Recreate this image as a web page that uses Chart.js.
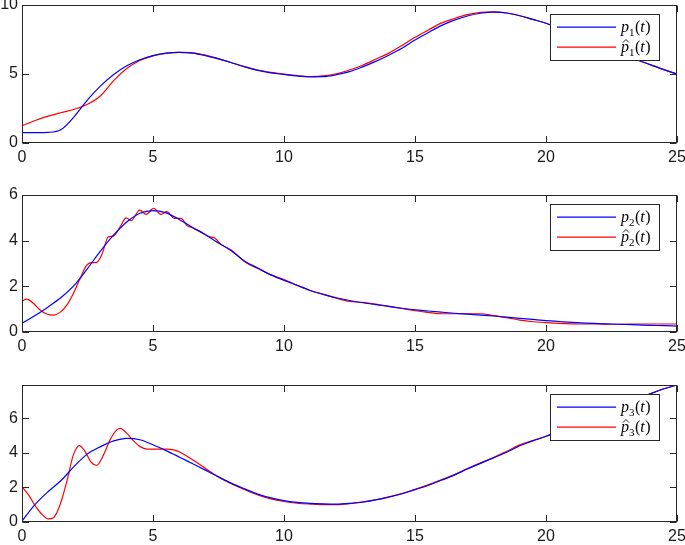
<!DOCTYPE html>
<html>
<head>
<meta charset="utf-8">
<script src="https://cdn.jsdelivr.net/npm/chart.js@4.4.0/dist/chart.umd.min.js"></script>
<style>
  body { margin: 0; background: #fff; }
  #wrap { position: relative; width: 685px; height: 545px; }
  canvas { position: absolute; left: 0; }
</style>
</head>
<body>
<div id="wrap">
  <canvas id="c1" width="685" height="170" style="top:0px"></canvas>
  <canvas id="c2" width="685" height="175" style="top:180px"></canvas>
  <canvas id="c3" width="685" height="175" style="top:370px"></canvas>
</div>
<script>
// time grid shared by the smooth curves
const tStep = [0, 0.5, 1, 1.5, 2, 2.5, 3, 3.5, 4, 4.5, 5, 5.5, 6, 6.5, 7, 7.5, 8, 8.5, 9, 9.5,
  10, 10.5, 11, 11.5, 12, 12.5, 13, 13.5, 14, 14.5, 15, 15.5, 16, 16.5, 17, 17.5, 18, 18.5, 19, 19.5,
  20, 20.5, 21, 21.5, 22, 22.5, 23, 23.5, 24, 24.5, 25];

// panel 1
const p1 = [0.72, 0.72, 0.74, 0.95, 1.9, 3.1, 4.12, 4.95, 5.58, 6.02, 6.32, 6.5, 6.56, 6.5, 6.32, 6.08, 5.8, 5.5, 5.25, 5.07,
  4.95, 4.84, 4.78, 4.79, 4.93, 5.15, 5.5, 5.9, 6.35, 6.85, 7.45, 7.98, 8.5, 8.9, 9.2, 9.4, 9.48, 9.42, 9.22, 8.95,
  8.67, 8.3, 7.95, 7.58, 7.2, 6.8, 6.4, 6.0, 5.65, 5.3, 4.98];
const p1Hat = [1.22, 1.6, 1.92, 2.18, 2.42, 2.78, 3.4, 4.5, 5.38, 5.96, 6.3, 6.48, 6.55, 6.52, 6.35, 6.1, 5.8, 5.52, 5.27, 5.1,
  4.97, 4.86, 4.8, 4.84, 5.0, 5.27, 5.62, 6.05, 6.5, 7.05, 7.65, 8.17, 8.68, 9.02, 9.3, 9.46, 9.5, 9.42, 9.22, 8.95,
  8.67, 8.3, 7.95, 7.58, 7.2, 6.8, 6.4, 6.0, 5.65, 5.3, 4.98];

// panel 2
const p2 = [0.38, 0.72, 1.1, 1.52, 2.05, 2.78, 3.55, 4.25, 4.82, 5.2, 5.32, 5.22, 4.93, 4.58, 4.26, 3.9, 3.55, 3.1, 2.8, 2.5,
  2.26, 2.05, 1.82, 1.65, 1.5, 1.38, 1.28, 1.2, 1.12, 1.04, 0.97, 0.92, 0.87, 0.82, 0.78, 0.74, 0.7, 0.65, 0.6, 0.55,
  0.5, 0.46, 0.42, 0.39, 0.37, 0.35, 0.33, 0.31, 0.29, 0.28, 0.26];
const tP2Hat = [0, 0.18, 0.43, 0.69, 0.94, 1.2, 1.45, 1.71, 1.96, 2.22, 2.47, 2.66, 2.85, 3.05, 3.3, 3.49, 3.75, 3.98,
  4.17, 4.49, 4.74, 5.02, 5.3, 5.53, 5.81, 6.07, 6.3, 6.53, 6.81, 7.13, 7.38, 7.57,
  8, 8.5, 9, 9.5, 10, 10.5, 11, 11.5, 12, 12.5, 13, 13.5, 14, 14.5, 15, 15.5, 16, 16.5, 17, 17.5,
  18, 18.5, 19, 19.5, 20, 20.5, 21, 21.5, 22, 22.5, 23, 23.5, 24, 24.5, 25];
const p2Hat = [1.36, 1.44, 1.26, 0.96, 0.79, 0.74, 0.86, 1.18, 1.69, 2.35, 2.93, 3.04, 3.05, 3.4, 4.17, 4.2, 4.62, 5.0,
  4.88, 5.34, 5.15, 5.42, 5.15, 5.27, 4.98, 4.98, 4.66, 4.56, 4.4, 4.18, 4.1, 3.86,
  3.58, 3.08, 2.78, 2.5, 2.3, 2.04, 1.82, 1.65, 1.48, 1.34, 1.3, 1.22, 1.12, 1.03, 0.93, 0.86, 0.8, 0.8, 0.8, 0.8,
  0.72, 0.63, 0.52, 0.45, 0.41, 0.38, 0.36, 0.35, 0.35, 0.34, 0.34, 0.35, 0.35, 0.35, 0.35];

// panel 3
const p3 = [0.04, 1.0, 1.75, 2.4, 3.22, 3.93, 4.35, 4.68, 4.83, 4.75, 4.46, 4.12, 3.75, 3.37, 2.99, 2.6, 2.22, 1.9, 1.6, 1.38,
  1.22, 1.12, 1.06, 1.03, 1.02, 1.06, 1.14, 1.26, 1.42, 1.62, 1.86, 2.1, 2.4, 2.7, 3.05, 3.38, 3.7, 4.02, 4.4, 4.68,
  4.95, 5.25, 5.55, 5.86, 6.17, 6.48, 6.79, 7.1, 7.42, 7.7, 7.92];
const tP3Hat = [0, 0.25, 0.5, 0.76, 1.01, 1.2, 1.45, 1.71, 1.96, 2.19, 2.41, 2.62, 2.85, 3.11, 3.36, 3.62, 3.75, 4.0,
  4.26, 4.51, 4.77, 5.15, 5.53, 5.79, 6.04, 6.42, 6.81, 7.19, 7.57,
  8, 8.5, 9, 9.5, 10, 10.5, 11, 11.5, 12, 12.5, 13, 13.5, 14, 14.5, 15, 15.5, 16, 16.5, 17, 17.5,
  18, 18.5, 19, 19.5, 20, 20.5, 21, 21.5, 22, 22.5, 23, 23.5, 24, 24.5, 25];
const p3Hat = [2.03, 1.55, 0.93, 0.43, 0.16, 0.23, 0.97, 2.32, 3.87, 4.41, 4.06, 3.48, 3.27, 3.87, 4.74, 5.32, 5.41, 5.12,
  4.68, 4.35, 4.21, 4.2, 4.21, 4.16, 4.02, 3.67, 3.29, 2.9, 2.52,
  2.2, 1.85, 1.55, 1.32, 1.17, 1.07, 1.02, 0.99, 0.99, 1.04, 1.13, 1.27, 1.44, 1.63, 1.87, 2.13, 2.42, 2.73, 3.08, 3.41,
  3.72, 4.08, 4.45, 4.7, 4.95, 5.25, 5.55, 5.86, 6.17, 6.48, 6.79, 7.1, 7.42, 7.7, 7.92];

const xTicks = [0, 5, 10, 15, 20, 25];

Chart.defaults.font.family = '"Liberation Sans", Arial, Helvetica, sans-serif';
Chart.defaults.font.size = 16;
Chart.defaults.color = '#1a1a1a';

const axisColor = '#262626';
const tickLen = 6.5;

function pts(ts, vs) {
  return ts.map((t, i) => ({ x: t, y: vs[i] }));
}

// labels may overflow the canvas edge like in the original, so no auto padding
function noPad(s) {
  s.paddingLeft = 0; s.paddingRight = 0; s.paddingTop = 0; s.paddingBottom = 0;
}

// MATLAB style box with inward ticks on all four sides
const boxPlugin = {
  id: 'matlabBox',
  afterDatasetsDraw(chart) {
    const { ctx, chartArea: a, scales } = chart;
    const l = Math.round(a.left) + 0.5, r = Math.round(a.right) - 0.5;
    const t = Math.round(a.top) + 0.5, b = Math.round(a.bottom) - 0.5;
    ctx.save();
    ctx.strokeStyle = axisColor;
    ctx.lineWidth = 1;
    ctx.strokeRect(l, t, r - l, b - t);
    ctx.beginPath();
    scales.x.ticks.forEach(tk => {
      const x = Math.round(scales.x.getPixelForValue(tk.value)) + 0.5;
      ctx.moveTo(x, b); ctx.lineTo(x, b - tickLen);
      ctx.moveTo(x, t); ctx.lineTo(x, t + tickLen);
    });
    scales.y.ticks.forEach(tk => {
      const y = Math.round(scales.y.getPixelForValue(tk.value)) + 0.5;
      ctx.moveTo(l, y); ctx.lineTo(l + tickLen, y);
      ctx.moveTo(r, y); ctx.lineTo(r - tickLen, y);
    });
    ctx.stroke();
    ctx.restore();
  }
};

function drawMath(ctx, x, base, n, hat) {
  ctx.fillStyle = '#000';
  ctx.textAlign = 'left';
  ctx.textBaseline = 'alphabetic';
  ctx.font = 'italic 16px "Liberation Serif", serif';
  ctx.fillText('p', x, base);
  let w = ctx.measureText('p').width;
  if (hat) {
    const cx = x + w * 0.62;
    ctx.save();
    ctx.strokeStyle = '#000';
    ctx.lineWidth = 0.9;
    ctx.beginPath();
    ctx.moveTo(cx - 3, base - 9.5);
    ctx.lineTo(cx, base - 12.5);
    ctx.lineTo(cx + 3, base - 9.5);
    ctx.stroke();
    ctx.restore();
  }
  ctx.font = '11px "Liberation Serif", serif';
  ctx.fillText(String(n), x + w, base + 3.5);
  w += ctx.measureText(String(n)).width + 0.5;
  ctx.font = '16px "Liberation Serif", serif';
  ctx.fillText('(', x + w, base);
  w += ctx.measureText('(').width;
  ctx.font = 'italic 16px "Liberation Serif", serif';
  ctx.fillText('t', x + w, base);
  w += ctx.measureText('t').width + 0.5;
  ctx.font = '16px "Liberation Serif", serif';
  ctx.fillText(')', x + w, base);
}

const legendPlugin = {
  id: 'mathLegend',
  afterDatasetsDraw(chart, args, opts) {
    const { ctx, chartArea: a } = chart;
    const w = 109, h = 46;
    const left = Math.round(a.right - 18 - w) + 0.5;
    const top = Math.round(a.top + 9) + 0.5;
    ctx.save();
    ctx.fillStyle = '#fff';
    ctx.fillRect(left, top, w, h);
    ctx.strokeStyle = axisColor;
    ctx.lineWidth = 1;
    ctx.strokeRect(left, top, w, h);
    const rows = [{ color: '#0000ff', hat: false, dy: 12.7 }, { color: '#ff0000', hat: true, dy: 32.7 }];
    rows.forEach(row => {
      const y = top + row.dy;
      ctx.strokeStyle = row.color;
      ctx.lineWidth = 1.2;
      ctx.beginPath();
      ctx.moveTo(left + 6.5, y);
      ctx.lineTo(left + 65.5, y);
      ctx.stroke();
      drawMath(ctx, left + 70.5, y + 4.8, opts.index, row.hat);
    });
    ctx.restore();
  }
};

function makePanel(id, tBlue, blue, tRed, red, yMax, yStep, padTop, xHeight, index) {
  return new Chart(document.getElementById(id), {
    type: 'line',
    data: {
      datasets: [
        { data: pts(tBlue, blue), borderColor: '#0000ff', borderWidth: 1.2 },
        { data: pts(tRed, red), borderColor: '#ff0000', borderWidth: 1.2 }
      ]
    },
    options: {
      responsive: false,
      animation: false,
      layout: { autoPadding: false, padding: { top: padTop, right: 8, left: 0, bottom: 0 } },
      elements: {
        point: { radius: 0 },
        line: { cubicInterpolationMode: 'monotone', fill: false }
      },
      plugins: {
        legend: { display: false },
        tooltip: { enabled: false },
        mathLegend: { index: index }
      },
      scales: {
        x: {
          type: 'linear', min: 0, max: 25,
          grid: { display: false, drawTicks: false },
          border: { display: false },
          afterBuildTicks: s => { s.ticks = xTicks.map(v => ({ value: v })); },
          ticks: { padding: 5, maxRotation: 0, autoSkip: false },
          afterFit: s => { s.height = xHeight; noPad(s); }
        },
        y: {
          min: 0, max: yMax,
          grid: { display: false, drawTicks: false },
          border: { display: false },
          ticks: { stepSize: yStep, includeBounds: false, padding: 4 },
          afterFit: s => { s.width = 22; noPad(s); }
        }
      }
    },
    plugins: [boxPlugin, legendPlugin]
  });
}

makePanel('c1', tStep, p1, tStep, p1Hat, 10, 5, 5, 27.5, 1);
makePanel('c2', tStep, p2, tP2Hat, p2Hat, 6, 2, 15, 23, 2);
makePanel('c3', tStep, p3, tP3Hat, p3Hat, 7.92, 2, 15, 23.3, 3);
</script>
</body>
</html>
